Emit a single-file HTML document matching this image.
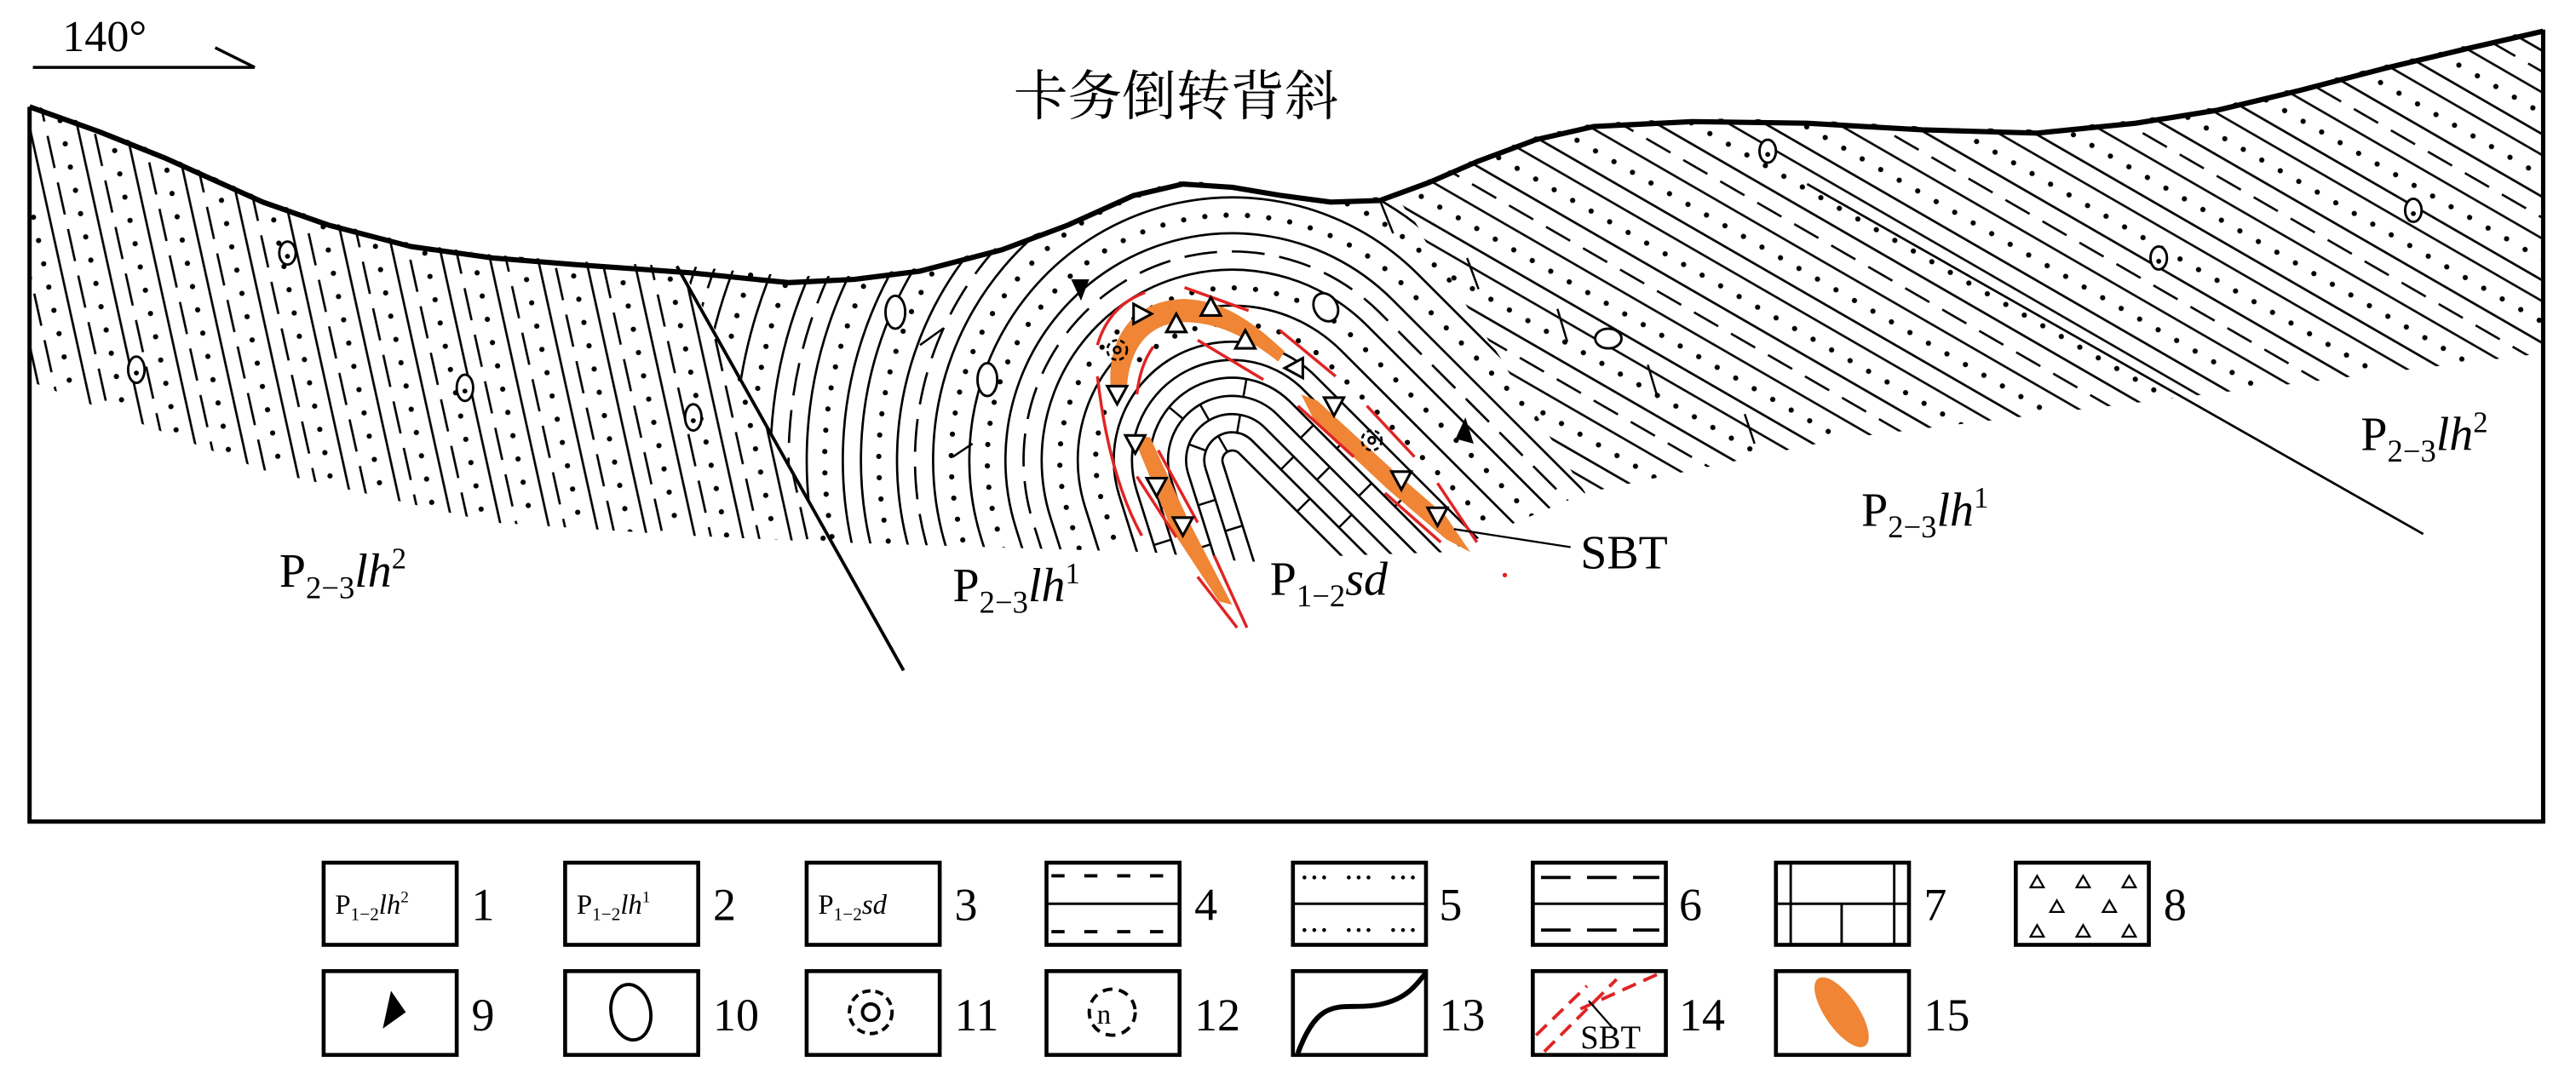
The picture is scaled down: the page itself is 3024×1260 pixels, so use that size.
<!DOCTYPE html>
<html><head><meta charset="utf-8">
<style>
html,body{margin:0;padding:0;background:#fff;overflow:hidden;width:3024px;height:1260px;}
svg{display:block;}
text{font-family:"Liberation Serif","Noto Serif CJK SC",serif;fill:#000;}
.ln path{fill:none;stroke:#000;stroke-width:1.4;}
.ln path.o{stroke-width:3.2;stroke-dasharray:0 13;stroke-linecap:round;}
.ln path.d{stroke-dasharray:20 9;}
.rd{fill:none;stroke:#e02424;stroke-width:1.8;}
.tk{stroke:#000;stroke-width:1.3;}
.tr{fill:#fff;stroke:#000;stroke-width:1.6;}
</style></head>
<body>
<svg width="3024" height="1260" viewBox="0 0 1568 653" preserveAspectRatio="none" xmlns="http://www.w3.org/2000/svg">
<defs>
<pattern id="patA" patternUnits="userSpaceOnUse" width="57" height="29" patternTransform="rotate(-12.4)">
<line x1="1" y1="0" x2="1" y2="29" stroke="#000" stroke-width="1.4"/>
<line x1="10.5" y1="0" x2="10.5" y2="20" stroke="#000" stroke-width="1.4"/>
<circle cx="20" cy="7" r="1.6"/><circle cx="20" cy="21.5" r="1.6"/>
<line x1="29.5" y1="0" x2="29.5" y2="29" stroke="#000" stroke-width="1.4"/>
<line x1="39" y1="5" x2="39" y2="25" stroke="#000" stroke-width="1.4"/>
<circle cx="48.5" cy="3" r="1.6"/><circle cx="48.5" cy="17.5" r="1.6"/>
</pattern>
<pattern id="patC" patternUnits="userSpaceOnUse" width="26" height="77" patternTransform="rotate(30)">
<line x1="0" y1="1" x2="26" y2="1" stroke="#000" stroke-width="1.4"/>
<circle cx="6" cy="12" r="1.6"/><circle cx="19" cy="12" r="1.6"/>
<line x1="0" y1="23" x2="26" y2="23" stroke="#000" stroke-width="1.4"/>
<line x1="0" y1="34" x2="17" y2="34" stroke="#000" stroke-width="1.4"/>
<line x1="0" y1="45" x2="26" y2="45" stroke="#000" stroke-width="1.4"/>
<circle cx="3" cy="56" r="1.6"/><circle cx="16" cy="56" r="1.6"/>
<line x1="0" y1="67" x2="26" y2="67" stroke="#000" stroke-width="1.4"/>
</pattern>
<clipPath id="cB"><path d="M412,158 L420,162 L480,168 L520,168 L560,163 L610,150 L650,135 L690,117 L720,110 L750,112 L780,117 L810,121 L840,120 L850,117 L965,300 L880,336 L820,338 L760,342 L700,336 L506,330 Z"/></clipPath>
</defs>
<path d="M18,63 L60,78 L100,94 L160,121 L200,135 L250,148 L300,155 L350,159 L412,162 L506,330 L420,326 L300,318 L160,286 L18,232 Z" fill="url(#patA)"/>
<path d="M850,119 L870,109 L900,96 L935,83 L970,75 L1030,72 L1100,73 L1170,77 L1240,79 L1300,73 L1350,65 L1400,53 L1450,40 L1500,28 L1548,17 L1548,215 L1400,233 L1260,250 L1120,267 L965,300 Z" fill="url(#patC)"/>
<g clip-path="url(#cB)" class="ln">
<path d="M864.6,663.3 L744.3,281.8 A6,6 0 0 1 754.2,275.8 l283,283"/>
<path d="M854.1,666.6 L733.8,285.1 A17,17 0 0 1 762,268 l283,283"/>
<path d="M843.6,669.9 L723.3,288.4 A28,28 0 0 1 769.8,260.2 l283,283"/>
<path d="M833.1,673.2 L712.8,291.7 A39,39 0 0 1 777.6,252.4 l283,283"/>
<path d="M822.6,676.5 L702.3,295 A50,50 0 0 1 785.4,244.6 l283,283"/>
<path d="M812.1,679.8 L691.8,298.3 A61,61 0 0 1 793.1,236.9 l283,283"/>
<path d="M801.6,683.2 L681.3,301.7 A72,72 0 0 1 800.9,229.1 l283,283"/>
<path class="o" d="M791.1,686.5 L670.8,305 A83,83 0 0 1 808.7,221.3 l283,283"/>
<path d="M780.7,689.8 L660.4,308.3 A94,94 0 0 1 816.5,213.5 l283,283"/>
<path class="o" d="M770.2,693.1 L649.9,311.6 A105,105 0 0 1 824.2,205.8 l283,283"/>
<path d="M759.7,696.4 L639.4,314.9 A116,116 0 0 1 832,198 l283,283"/>
<path class="d" d="M749.2,699.7 L628.9,318.2 A127,127 0 0 1 839.8,190.2 l283,283"/>
<path d="M738.7,703 L618.4,321.5 A138,138 0 0 1 847.6,182.4 l283,283"/>
<path class="o" d="M728.2,706.3 L607.9,324.8 A149,149 0 0 1 855.4,174.6 l283,283"/>
<path d="M717.7,709.6 L597.4,328.1 A160,160 0 0 1 863.1,166.9 l283,283"/>
<path class="o" d="M707.2,712.9 L586.9,331.4 A171,171 0 0 1 870.9,159.1 l283,283"/>
<path d="M696.7,716.2 L576.4,334.7 A182,182 0 0 1 878.7,151.3 l283,283"/>
<path class="d" d="M686.2,719.5 L565.9,338 A193,193 0 0 1 886.5,143.5 l283,283"/>
<path d="M675.7,722.8 L555.4,341.3 A204,204 0 0 1 894.2,135.8 l283,283"/>
<path class="o" d="M665.2,726.2 L544.9,344.7 A215,215 0 0 1 902,128 l283,283"/>
<path d="M654.8,729.5 L534.5,348 A226,226 0 0 1 909.8,120.2 l283,283"/>
<path d="M644.3,732.8 L524,351.3 A237,237 0 0 1 917.6,112.4 l283,283"/>
<path class="o" d="M633.8,736.1 L513.5,354.6 A248,248 0 0 1 925.4,104.6 l283,283"/>
<path d="M623.3,739.4 L503,357.9 A259,259 0 0 1 933.1,96.9 l283,283"/>
<path class="d" d="M612.8,742.7 L492.5,361.2 A270,270 0 0 1 940.9,89.1 l283,283"/>
<path d="M602.3,746 L482,364.5 A281,281 0 0 1 948.7,81.3 l283,283"/>
<path class="o" d="M591.8,749.3 L471.5,367.8 A292,292 0 0 1 956.5,73.5 l283,283"/>
<path d="M581.3,752.6 L461,371.1 A303,303 0 0 1 964.2,65.8 l283,283"/>
<path class="o" d="M570.8,755.9 L450.5,374.4 A314,314 0 0 1 972,58 l283,283"/>
<path d="M560.3,759.2 L440,377.7 A325,325 0 0 1 979.8,50.2 l283,283"/>
<path class="d" d="M549.9,762.5 L429.6,381 A336,336 0 0 1 987.6,42.4 l283,283"/>
<path d="M539.4,765.8 L419.1,384.3 A347,347 0 0 1 995.4,34.6 l283,283"/>
<path class="o" d="M528.9,769.2 L408.6,387.7 A358,358 0 0 1 1003.1,26.9 l283,283"/>
</g>
<g class="tk">
<line x1="789.6" y1="311.2" x2="797.4" y2="303.4"/>
<line x1="779.7" y1="285.7" x2="787.5" y2="277.9"/><line x1="815" y1="321" x2="822.8" y2="313.2"/>
<line x1="801.6" y1="292" x2="809.4" y2="284.2"/>
<line x1="791.7" y1="266.5" x2="799.5" y2="258.7"/><line x1="827.1" y1="301.9" x2="834.9" y2="294.1"/>
<line x1="813.7" y1="272.9" x2="821.5" y2="265.1"/><line x1="849" y1="308.2" x2="856.8" y2="300.4"/>
<line x1="756.3" y1="319.9" x2="745.8" y2="323.2"/><line x1="739.8" y1="304.2" x2="729.3" y2="307.5"/>
<line x1="736.8" y1="331.3" x2="726.3" y2="334.6"/>
<line x1="717.3" y1="306" x2="706.8" y2="309.3"/>
<line x1="712.8" y1="328.4" x2="702.3" y2="331.7"/>
<line x1="734" y1="274.2" x2="723.7" y2="270.4"/><line x1="736" y1="255.8" x2="730.5" y2="246.2"/>
<line x1="747" y1="274.8" x2="741.5" y2="265.3"/><line x1="753" y1="263.3" x2="754.9" y2="252.4"/>
<line x1="756.8" y1="241.6" x2="758.7" y2="230.8"/><line x1="720.1" y1="254.9" x2="711.7" y2="247.9"/>
<line x1="840" y1="122" x2="848" y2="142"/><line x1="893" y1="157" x2="900" y2="176"/><line x1="948" y1="188" x2="954" y2="208"/><line x1="1003" y1="222" x2="1009" y2="242"/><line x1="1062" y1="252" x2="1068" y2="270"/><line x1="560" y1="210" x2="574" y2="200"/><line x1="580" y1="278" x2="592" y2="270"/>
</g>
<g fill="#ef8535">
<path d="M676,235 C674,205 690,183 720,182 C745,182 765,198 782,214 L778,220 C760,206 742,196 720,196 C700,197 688,210 686,235 Z"/>
<path d="M690,266 L700,266 L724,318 L750,368 L742,366 L713,322 Z"/>
<path d="M792,240 L802,244 L850,288 L880,314 L895,336 L880,328 L845,298 L800,256 Z"/>
</g>
<g class="rd">
<path d="M668,210 Q675,186 697,178"/><line x1="721" y1="175" x2="760" y2="189"/>
<path d="M692,240 Q694,222 702,211"/><line x1="729" y1="207" x2="769" y2="231"/>
<line x1="779" y1="201" x2="813" y2="229"/><path d="M668,229 Q675,290 695,326"/>
<line x1="692" y1="290" x2="716" y2="327"/><line x1="705" y1="274" x2="729" y2="318"/>
<line x1="729" y1="351" x2="753" y2="382"/><line x1="739" y1="338" x2="759" y2="382"/>
<line x1="790" y1="247" x2="824" y2="278"/><line x1="832" y1="247" x2="861" y2="278"/>
<line x1="843" y1="300" x2="877" y2="330"/><line x1="875" y1="294" x2="899" y2="330"/>
</g>
<circle cx="916" cy="350" r="1.4" fill="#e02424"/>
<path class="tr" d="M690,185 L701,191 L690,197 Z" fill="none"/>
<path class="tr" d="M710,202 L716,191 L722,202 Z"/>
<path class="tr" d="M731,192 L737,181 L743,192 Z"/>
<path class="tr" d="M752,212 L758,201 L764,212 Z" fill="none"/>
<path class="tr" d="M793,218 L782,224 L793,230 Z"/>
<path class="tr" d="M674,235 L686,235 L680,246 Z"/>
<path class="tr" d="M685,265 L697,265 L691,276 Z"/>
<path class="tr" d="M698,291 L710,291 L704,302 Z" fill="none"/>
<path class="tr" d="M714,315 L726,315 L720,326 Z" fill="none"/>
<path class="tr" d="M806,242 L818,242 L812,253 Z"/>
<path class="tr" d="M847,287 L859,287 L853,298 Z" fill="none"/>
<path class="tr" d="M869,309 L881,309 L875,320 Z" fill="none"/>
<path d="M652,170 L663,170 L658,183 Z" fill="#000"/>
<path d="M892,254 L897,270 L886,267 Z" fill="#000"/>
<g fill="#fff" stroke="#000" stroke-width="1.5">
<ellipse cx="175" cy="154" rx="5" ry="7"/><ellipse cx="83" cy="225" rx="5" ry="8"/><ellipse cx="283" cy="236" rx="5" ry="8"/><ellipse cx="422" cy="254" rx="5" ry="8"/>
<ellipse cx="545" cy="190" rx="6" ry="10"/><ellipse cx="601" cy="231" rx="6" ry="10"/><ellipse cx="807" cy="187" rx="7" ry="9" transform="rotate(-30 807 187)"/><ellipse cx="979" cy="206" rx="8" ry="6"/>
<ellipse cx="1076" cy="92" rx="5" ry="7"/><ellipse cx="1314" cy="157" rx="5" ry="7"/><ellipse cx="1469" cy="128" rx="5" ry="7"/>
</g>
<g fill="#000"><circle cx="175" cy="156" r="1.5"/><circle cx="83" cy="227" r="1.5"/><circle cx="283" cy="238" r="1.5"/><circle cx="422" cy="256" r="1.5"/><circle cx="1076" cy="94" r="1.5"/><circle cx="1314" cy="159" r="1.5"/><circle cx="1469" cy="130" r="1.5"/></g>
<g fill="none" stroke="#000" stroke-width="1.4">
<circle cx="680" cy="213" r="6" stroke-dasharray="3 2"/><circle cx="680" cy="213" r="2"/>
<circle cx="835" cy="268" r="6" stroke-dasharray="3 2"/><circle cx="835" cy="268" r="2"/>
</g>
<polyline points="18,65 60,80 100,96 160,123 200,137 250,150 300,157 350,161 420,166 480,172 520,170 560,165 610,152 650,137 690,119 720,112 750,114 780,119 810,123 840,122 870,111 900,98 935,85 970,77 1030,74 1100,75 1170,79 1240,81 1300,75 1350,67 1400,55 1450,42 1500,30 1548,19" fill="none" stroke="#000" stroke-width="3.2" stroke-linejoin="round"/>
<polyline points="18,65 18,500 1548,500 1548,18" fill="none" stroke="#000" stroke-width="2.6"/>
<line x1="412" y1="162" x2="550" y2="408" stroke="#000" stroke-width="2"/>
<line x1="1100" y1="112" x2="1475" y2="325" stroke="#000" stroke-width="1.4"/>
<text x="38" y="31" font-size="27">140°</text>
<polyline points="20,41 155,41 131,29" fill="none" stroke="#000" stroke-width="1.8"/>
<text x="617" y="70" font-size="33" style='font-family:"Noto Serif CJK SC","Noto Sans CJK SC",serif'>卡务倒转背斜</text>
<g font-size="29">
<text x="170" y="357">P<tspan font-size="19" dy="7">2−3</tspan><tspan font-style="italic" dy="-7">lh</tspan><tspan font-size="18" dy="-11">2</tspan></text>
<text x="580" y="366">P<tspan font-size="19" dy="7">2−3</tspan><tspan font-style="italic" dy="-7">lh</tspan><tspan font-size="18" dy="-11">1</tspan></text>
<text x="773" y="362">P<tspan font-size="19" dy="7">1−2</tspan><tspan font-style="italic" dy="-7">sd</tspan></text>
<text x="962" y="346">SBT</text>
<text x="1133" y="320">P<tspan font-size="19" dy="7">2−3</tspan><tspan font-style="italic" dy="-7">lh</tspan><tspan font-size="18" dy="-11">1</tspan></text>
<text x="1437" y="274">P<tspan font-size="19" dy="7">2−3</tspan><tspan font-style="italic" dy="-7">lh</tspan><tspan font-size="18" dy="-11">2</tspan></text>
</g>
<line x1="885" y1="322" x2="956" y2="333" stroke="#000" stroke-width="1.2"/>
<g fill="none" stroke="#000" stroke-width="2.4">
<rect x="197" y="525" width="81" height="50"/><rect x="344" y="525" width="81" height="50"/><rect x="491" y="525" width="81" height="50"/><rect x="637" y="525" width="81" height="50"/><rect x="787" y="525" width="81" height="50"/><rect x="933" y="525" width="81" height="50"/><rect x="1081" y="525" width="81" height="50"/><rect x="1227" y="525" width="81" height="50"/>
<rect x="197" y="591" width="81" height="51"/><rect x="344" y="591" width="81" height="51"/><rect x="491" y="591" width="81" height="51"/><rect x="637" y="591" width="81" height="51"/><rect x="787" y="591" width="81" height="51"/><rect x="933" y="591" width="81" height="51"/><rect x="1081" y="591" width="81" height="51"/>
</g>
<g font-size="17">
<text x="204" y="556">P<tspan font-size="11" dy="4">1−2</tspan><tspan font-style="italic" dy="-4">lh</tspan><tspan font-size="10" dy="-7">2</tspan></text>
<text x="351" y="556">P<tspan font-size="11" dy="4">1−2</tspan><tspan font-style="italic" dy="-4">lh</tspan><tspan font-size="10" dy="-7">1</tspan></text>
<text x="498" y="556">P<tspan font-size="11" dy="4">1−2</tspan><tspan font-style="italic" dy="-4">sd</tspan></text>
</g>
<g font-size="28">
<text x="287" y="560">1</text><text x="434" y="560">2</text><text x="581" y="560">3</text><text x="727" y="560">4</text><text x="876" y="560">5</text><text x="1022" y="560">6</text><text x="1171" y="560">7</text><text x="1317" y="560">8</text>
<text x="287" y="627">9</text><text x="434" y="627">10</text><text x="581" y="627">11</text><text x="727" y="627">12</text><text x="876" y="627">13</text><text x="1022" y="627">14</text><text x="1171" y="627">15</text>
</g>
<g stroke="#000" fill="none" stroke-width="1.5">
<line x1="637" y1="550" x2="718" y2="550"/>
<line x1="640" y1="533" x2="716" y2="533" stroke-dasharray="8 3 0 3 0 3 0 3" stroke-width="2"/>
<line x1="640" y1="567" x2="716" y2="567" stroke-dasharray="8 3 0 3 0 3 0 3" stroke-width="2"/>
<line x1="787" y1="550" x2="868" y2="550"/>
<line x1="794" y1="534" x2="866" y2="534" stroke-dasharray="0 6 0 6 0 15" stroke-linecap="round" stroke-width="2.4"/>
<line x1="794" y1="566" x2="866" y2="566" stroke-dasharray="0 6 0 6 0 15" stroke-linecap="round" stroke-width="2.4"/>
<line x1="933" y1="550" x2="1014" y2="550"/>
<line x1="938" y1="534" x2="1010" y2="534" stroke-dasharray="18 10" stroke-width="2"/>
<line x1="938" y1="566" x2="1010" y2="566" stroke-dasharray="18 10" stroke-width="2"/>
<line x1="1081" y1="550" x2="1162" y2="550"/>
<line x1="1090" y1="525" x2="1090" y2="575"/><line x1="1153" y1="525" x2="1153" y2="575"/><line x1="1121" y1="550" x2="1121" y2="575"/>
<path d="M1236,540 l4,-7 l4,7z M1264,540 l4,-7 l4,7z M1292,540 l4,-7 l4,7z M1248,555 l4,-7 l4,7z M1280,555 l4,-7 l4,7z M1236,570 l4,-7 l4,7z M1264,570 l4,-7 l4,7z M1292,570 l4,-7 l4,7z" stroke-width="1.2"/>
<path d="M238,603 L247,616 L233,626 Z" fill="#000" stroke="none"/>
<ellipse cx="384" cy="616" rx="12" ry="17" transform="rotate(-10 384 616)" stroke-width="2"/>
<circle cx="530" cy="616" r="13" stroke-dasharray="5 3" stroke-width="2"/>
<circle cx="530" cy="616" r="5" stroke-width="2"/>
<circle cx="677" cy="616" r="14" stroke-dasharray="6 4" stroke-width="2"/>
<path d="M790,641 C805,600 820,618 845,610 C858,606 863,598 868,592" stroke-width="3"/>
<g stroke="#e02424" stroke-width="2" stroke-dasharray="9 5"><line x1="935" y1="630" x2="966" y2="600"/><line x1="940" y1="640" x2="984" y2="596"/><line x1="962" y1="614" x2="1011" y2="592"/></g>
<line x1="967" y1="609" x2="982" y2="626" stroke-width="1.2"/>
</g>
<text x="672" y="623" font-size="17" text-anchor="middle">n</text>
<text x="962" y="638" font-size="20">SBT</text>
<ellipse cx="1121" cy="616" rx="10" ry="25" transform="rotate(-35 1121 616)" fill="#ef8535"/>
</svg>
</body></html>
